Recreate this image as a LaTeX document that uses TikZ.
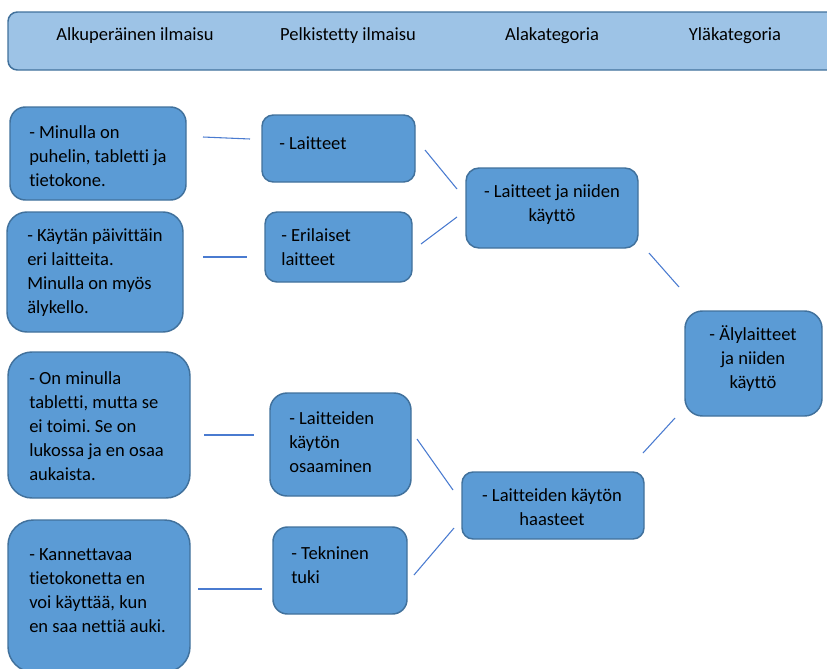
\documentclass[tikz,border=0pt]{standalone}
\usepackage{fontspec}
\setmainfont{Carlito}[Ligatures=NoCommon]
\frenchspacing
\definecolor{boxfill}{HTML}{5B9BD5}
\definecolor{boxedge}{HTML}{41719C}
\definecolor{headfill}{HTML}{9DC3E6}
\definecolor{linkcol}{HTML}{4A7BD0}
\begin{document}
\begin{tikzpicture}[x=0.75pt,y=-0.75pt,
  cbox/.style={draw=boxedge, line width=1.1pt, fill=boxfill, inner sep=0pt},
  hbox/.style={draw=boxedge, line width=1.1pt, fill=headfill, inner sep=0pt},
  txt/.style={inner sep=0pt, font=\fontsize{13.9}{18}\selectfont\frenchspacing, text=black},
  ltxt/.style={txt, align=left, anchor=west},
  ctxt/.style={txt, align=center},
  link/.style={draw=linkcol, line width=0.8pt}]
\useasboundingbox (0,0) rectangle (827,668);
% header
\node[hbox, rounded corners=7pt, minimum width=627.75pt, minimum height=43.5pt] (head) at (426.5,41) {};
\node[ctxt] (h1) at (135,36) {Alkuperäinen ilmaisu};
\node[ctxt] (h2) at (348,36) {Pelkistetty ilmaisu};
\node[ctxt] (h3) at (552,36) {Alakategoria};
\node[ctxt] (h4) at (735,36) {Yläkategoria};
% original expressions
\node[cbox, rounded corners=11.6pt, minimum width=132pt, minimum height=69.75pt] (b1) at (98,153.5) {};
\node[cbox, rounded corners=15pt, minimum width=132pt, minimum height=90pt] (b2) at (95,272) {};
\node[cbox, rounded corners=18pt, minimum width=136.5pt, minimum height=109.5pt] (b3) at (99,425) {};
\node[cbox, rounded corners=19pt, minimum width=136.5pt, minimum height=114pt] (b4) at (99,596) {};
% simplified
\node[cbox, rounded corners=8.5pt, minimum width=114.75pt, minimum height=50.25pt] (p1) at (338.5,148.5) {};
\node[cbox, rounded corners=9pt, minimum width=110.25pt, minimum height=52.5pt] (p2) at (338.5,247) {};
\node[cbox, rounded corners=12.8pt, minimum width=105.75pt, minimum height=77.25pt] (p3) at (340.5,444.5) {};
\node[cbox, rounded corners=10.9pt, minimum width=100.5pt, minimum height=65.25pt] (p4) at (340,570.5) {};
% sub categories
\node[cbox, rounded corners=9.8pt, minimum width=129pt, minimum height=60pt] (a1) at (552,208) {};
\node[cbox, rounded corners=8.3pt, minimum width=136.5pt, minimum height=50.25pt] (a2) at (553,505.5) {};
% main category
\node[cbox, rounded corners=13.1pt, minimum width=102.75pt, minimum height=78.75pt] (y1) at (753.5,363.5) {};
% texts
\node[ltxt] (tb1) at (29,156) {- Minulla on\\puhelin, tabletti ja\\tietokone.};
\node[ltxt] (tb2) at (27,272.5) {- Käytän päivittäin\\eri laitteita.\\Minulla on myös\\älykello.};
\node[ltxt] (tb3) at (29,426) {- On minulla\\tabletti, mutta se\\ei toimi. Se on\\lukossa ja en osaa\\aukaista.};
\node[ltxt] (tb4) at (29,591) {- Kannettavaa\\tietokonetta en\\voi käyttää, kun\\en saa nettiä auki.};
\node[ltxt] (tp1) at (279,143) {- Laitteet};
\node[ltxt] (tp2) at (281,247) {- Erilaiset\\laitteet};
\node[ltxt] (tp3) at (289,442) {- Laitteiden\\käytön\\osaaminen};
\node[ltxt] (tp4) at (291,565) {- Tekninen\\tuki};
\node[ctxt] (ta1) at (552,205) {- Laitteet ja niiden\\käyttö};
\node[ctxt] (ta2) at (552,507.5) {- Laitteiden käytön\\haasteet};
\node[ctxt] (ty1) at (753,359) {- Älylaitteet\\ja niiden\\käyttö};
% connector end points
\coordinate (c1a) at (203,137); \coordinate (c1b) at (250,139);
\coordinate (c2a) at (203,257); \coordinate (c2b) at (247,257);
\coordinate (c3a) at (204,435); \coordinate (c3b) at (254,435);
\coordinate (c4a) at (198,589); \coordinate (c4b) at (262,589);
\coordinate (c5a) at (425,150); \coordinate (c5b) at (457,189);
\coordinate (c6a) at (421,244); \coordinate (c6b) at (457,217);
\coordinate (c7a) at (417,439); \coordinate (c7b) at (453,490);
\coordinate (c8a) at (414,575); \coordinate (c8b) at (454,528);
\coordinate (c9a) at (649,253); \coordinate (c9b) at (679,287);
\coordinate (c10a) at (675,418); \coordinate (c10b) at (643,453);
\draw[link] (c1a) -- (c1b);
\draw[link] (c2a) -- (c2b);
\draw[link] (c3a) -- (c3b);
\draw[link] (c4a) -- (c4b);
\draw[link] (c5a) -- (c5b);
\draw[link] (c6a) -- (c6b);
\draw[link] (c7a) -- (c7b);
\draw[link] (c8a) -- (c8b);
\draw[link] (c9a) -- (c9b);
\draw[link] (c10a) -- (c10b);
\end{tikzpicture}
\end{document}
